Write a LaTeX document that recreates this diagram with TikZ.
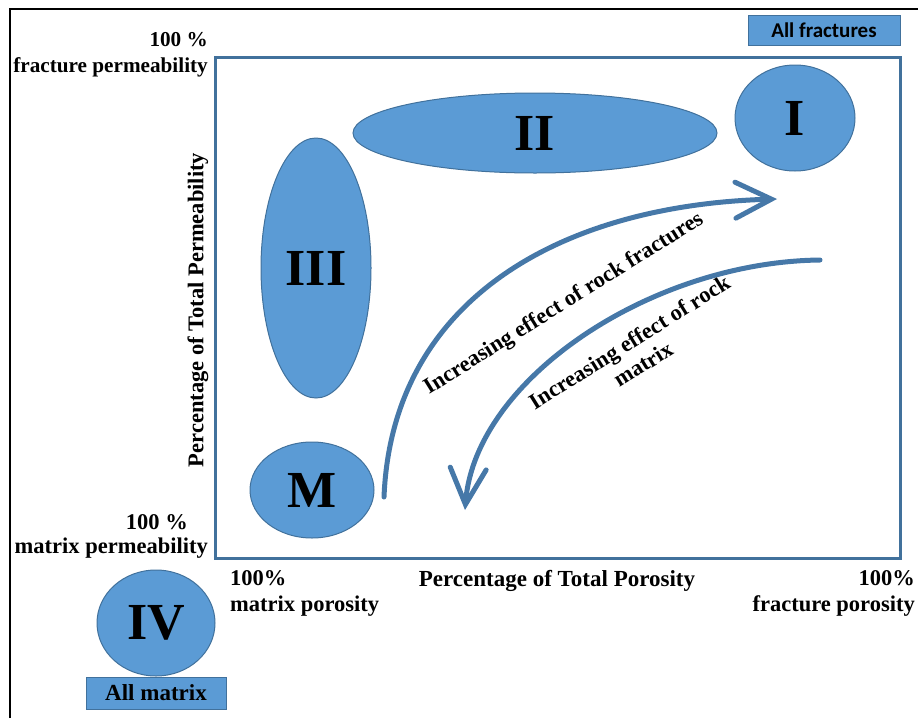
\documentclass[tikz,border=0pt]{standalone}
\usepackage{fontspec}
\setmainfont{Liberation Serif}
\newfontfamily\calibri{Carlito}
\usetikzlibrary{shapes.geometric,arrows.meta}
\definecolor{zonefill}{RGB}{91,155,213}
\definecolor{zoneedge}{RGB}{65,113,156}
\definecolor{trendline}{RGB}{70,120,168}
\tikzset{
  zone/.style={ellipse, draw=zoneedge, line width=1pt, fill=zonefill, inner sep=0pt,
    font=\fontsize{52}{52}\selectfont\bfseries},
  tag/.style={draw=zoneedge, line width=1pt, fill=zonefill, inner sep=0pt},
  axislabel/.style={font=\fontsize{22.5}{26}\selectfont\bfseries, inner sep=0pt},
  trend/.style={draw=trendline, line width=5pt, line cap=round,
    -{Straight Barb[length=36pt,width=36pt,line cap=round]}},
}
\begin{document}
\begin{tikzpicture}[x=1pt,y=-1pt]
			%%%%% FRAME %%%%%
			\useasboundingbox (0,0) rectangle (918,718);
			\draw[line width=2pt] (10,718) -- (10,9) -- (918,9);
			\draw[draw=zoneedge, line width=3pt] (215,57) rectangle (900,558);
			
			%%%%% ZONES %%%%%
			\node[zone, minimum width=120pt, minimum height=106pt] (zoneI) at (795,118) {I};
			\node[zone, minimum width=364pt, minimum height=80pt] (zoneII) at (535,133) {II};
			\node[zone, minimum width=110pt, minimum height=260pt] (zoneIII) at (316,268) {III};
			\node[zone, minimum width=124pt, minimum height=96pt] (zoneM) at (312,490) {M};
			\node[zone, minimum width=118pt, minimum height=106pt] (zoneIV) at (156,623) {IV};
			
			\node[tag, minimum width=152pt, minimum height=30pt, font=\fontsize{21}{21}\selectfont\calibri\bfseries] (allfrac) at (824,30) {All fractures};
			\node[tag, minimum width=140pt, minimum height=32pt, font=\fontsize{23}{23}\selectfont\bfseries] (allmat) at (156,693) {All matrix};
			
			%%%%% AXES %%%%%
			\node[axislabel, align=right, anchor=east, font=\fontsize{21.2}{26}\selectfont\bfseries] (fracperm) at (208,55) {100 \%\\fracture permeability};
			\node[axislabel, anchor=east] (matpermA) at (188,522) {100 \%};
			\node[axislabel, anchor=east] (matpermB) at (208,548) {matrix permeability};
			\node[axislabel, align=left, anchor=west] (matpor) at (230,593) {100\%\\matrix porosity};
			\node[axislabel, align=right, anchor=east] (fracpor) at (915,593) {100\%\\fracture porosity};
			\node[axislabel, font=\fontsize{23}{26}\selectfont\bfseries] (porosity) at (557,581) {Percentage of Total Porosity};
			\node[axislabel, rotate=90] (permeability) at (198,310) {Percentage of Total Permeability};
			
			%%%%% TRENDS %%%%%
			\coordinate (fracstart) at (384,497);
			\coordinate (fracend) at (777,199);
			\coordinate (matstart) at (820,260);
			\coordinate (matend) at (465,510);
			\draw[trend] (fracstart) .. controls (392,300) and (560,205) .. (fracend);
			\draw[trend] (matstart) .. controls (650,262) and (475,380) .. (matend);
			\node[axislabel, rotate=32] (fraclabel) at (564,304) {Increasing effect of rock fractures};
			\node[axislabel, rotate=32, align=center] (matlabel) at (636,353) {Increasing effect of rock\\matrix};
			
		\end{tikzpicture}
\end{document}
